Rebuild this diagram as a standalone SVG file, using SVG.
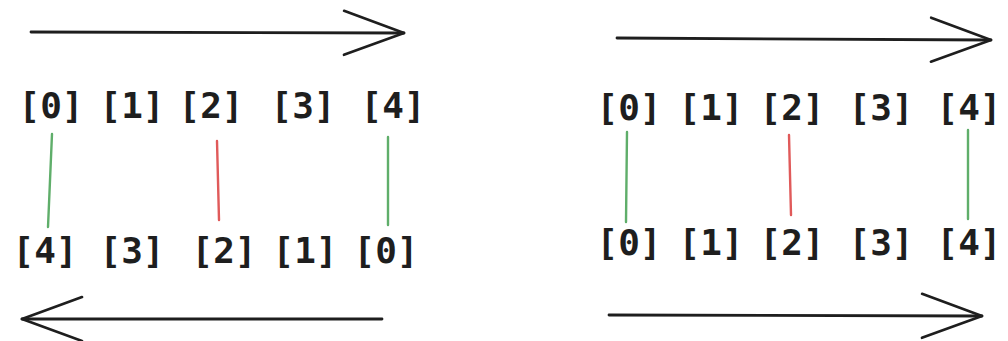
<svg xmlns="http://www.w3.org/2000/svg" width="1008" height="341" viewBox="0 0 1008 341">
  <style>
    .lbl { font-family: "DejaVu Sans Mono", "Liberation Mono", monospace; font-size: 36px; font-weight: bold; fill: #1e1e1e; text-anchor: middle; }
    .arrow { stroke: #1e1e1e; stroke-width: 2.8; fill: none; stroke-linecap: round; }
    .same { stroke: #5fae6a; stroke-width: 2.4; stroke-linecap: round; }
    .diff { stroke: #e05a5a; stroke-width: 2.4; stroke-linecap: round; }
  </style>
  <defs>
    <marker id="chevron" markerUnits="userSpaceOnUse" viewBox="0 0 64 48" refX="62" refY="24" markerWidth="64" markerHeight="48" orient="auto">
      <path d="M2,2 L62,24 L2,46" fill="none" stroke="#1e1e1e" stroke-width="2.6" stroke-linecap="round" stroke-linejoin="round"/>
    </marker>
  </defs>

  <!-- left panel: forward row over reversed row -->
  <g id="left-top">
    <g id="lt0"><text class="lbl" x="51" y="118">[0]</text></g>
    <g id="lt1"><text class="lbl" x="132" y="118">[1]</text></g>
    <g id="lt2"><text class="lbl" x="211" y="118">[2]</text></g>
    <g id="lt3"><text class="lbl" x="303" y="118">[3]</text></g>
    <g id="lt4"><text class="lbl" x="393" y="118">[4]</text></g>
  </g>
  <g id="left-bottom">
    <g id="lb4"><text class="lbl" x="45" y="263">[4]</text></g>
    <g id="lb3"><text class="lbl" x="132" y="263">[3]</text></g>
    <g id="lb2"><text class="lbl" x="224" y="263">[2]</text></g>
    <g id="lb1"><text class="lbl" x="305" y="263">[1]</text></g>
    <g id="lb0"><text class="lbl" x="386" y="263">[0]</text></g>
  </g>

  <!-- right panel: forward row over forward row -->
  <g id="right-top">
    <g id="rt0"><text class="lbl" x="629" y="120">[0]</text></g>
    <g id="rt1"><text class="lbl" x="711" y="120">[1]</text></g>
    <g id="rt2"><text class="lbl" x="792" y="120">[2]</text></g>
    <g id="rt3"><text class="lbl" x="881" y="120">[3]</text></g>
    <g id="rt4"><text class="lbl" x="969" y="120">[4]</text></g>
  </g>
  <g id="right-bottom">
    <g id="rb0"><text class="lbl" x="629" y="255">[0]</text></g>
    <g id="rb1"><text class="lbl" x="711" y="255">[1]</text></g>
    <g id="rb2"><text class="lbl" x="792" y="255">[2]</text></g>
    <g id="rb3"><text class="lbl" x="881" y="255">[3]</text></g>
    <g id="rb4"><text class="lbl" x="969" y="255">[4]</text></g>
  </g>

  <g id="connectors">
    <!-- direction arrows -->
    <path class="arrow" d="M31,32 L404,33" marker-end="url(#chevron)"/>
    <path class="arrow" d="M382,319 L22,319" marker-end="url(#chevron)"/>
    <path class="arrow" d="M617,38 L991,40" marker-end="url(#chevron)"/>
    <path class="arrow" d="M609,315 L982,316" marker-end="url(#chevron)"/>
    <!-- pairings -->
    <line class="same" x1="52" y1="134" x2="48" y2="227"/>
    <line class="diff" x1="217" y1="141" x2="219" y2="220"/>
    <line class="same" x1="388" y1="137" x2="388" y2="225"/>
    <line class="same" x1="627" y1="132" x2="626" y2="222"/>
    <line class="diff" x1="789" y1="135" x2="791" y2="215"/>
    <line class="same" x1="968" y1="130" x2="968" y2="219"/>
  </g>
</svg>
